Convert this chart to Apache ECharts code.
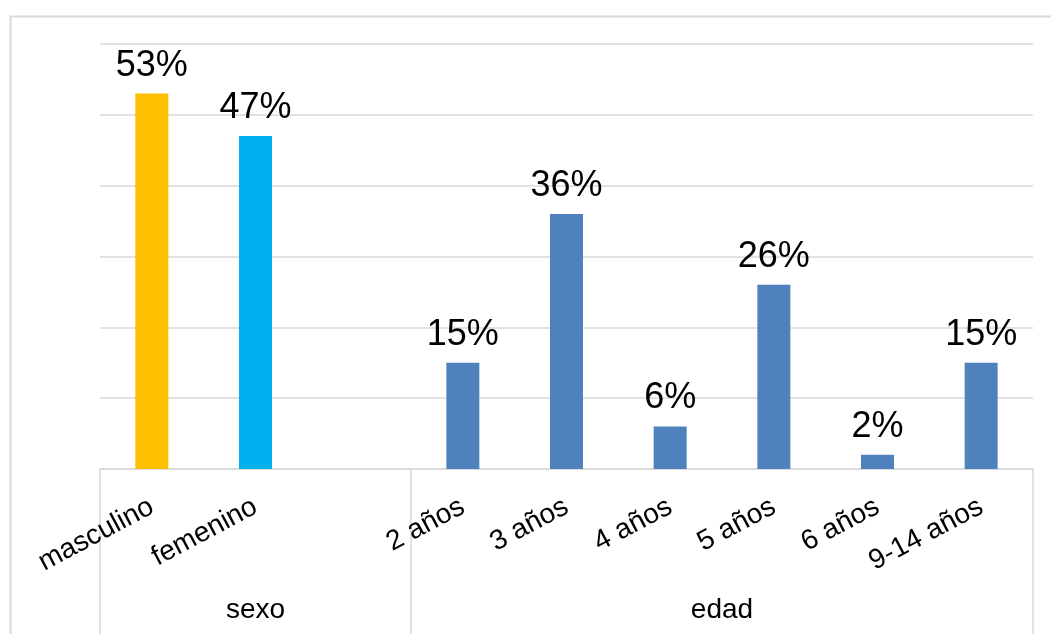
<!DOCTYPE html>
<html>
<head>
<meta charset="utf-8">
<script src="https://cdn.jsdelivr.net/npm/echarts@6/dist/echarts.min.js"></script>
<style>
  html, body { margin: 0; padding: 0; background: #fff; }
  #chart { width: 1051px; height: 634px; }
</style>
</head>
<body>
<div id="chart"></div>
<script>
// categorias (el hueco separa los dos grupos)
const categories = ["masculino", "femenino", "", "2 años", "3 años", "4 años", "5 años", "6 años", "9-14 años"];
const values = [53, 47, null, 15, 36, 6, 26, 2, 15];
const barColors = ["#FFC000", "#00B0F0", "#4F81BD", "#4F81BD", "#4F81BD", "#4F81BD", "#4F81BD", "#4F81BD", "#4F81BD"];
// grupos: nombre, posicion central y limites en unidades de categoria
const groupNames = ["sexo", "edad"];
const groupCenters = [1.5, 6];
const groupBounds = [0, 3, 9];

const font = "Liberation Sans, Arial, sans-serif";
const lineColor = "#d9d9d9";

let myChart = echarts.init(document.getElementById("chart"));
myChart.setOption({
  animation: false,
  graphic: [
    {
      type: "rect",
      left: 8,
      top: 14,
      shape: { width: 1100, height: 700 },
      style: { fill: "none", stroke: lineColor, lineWidth: 2 },
      silent: true,
    },
  ],
  grid: {
    left: 100,
    right: 18,
    top: 44,
    bottom: 165,
  },
  xAxis: [
    {
      type: "category",
      data: categories,
      position: "bottom",
      axisLine: { lineStyle: { color: lineColor, width: 1.5 } },
      axisTick: { show: false },
      axisLabel: {
        interval: 0,
        rotate: 28,
        margin: 36,
        fontSize: 28,
        fontFamily: font,
        color: "#000",
      },
    },
    {
      type: "value",
      min: 0,
      max: 9,
      position: "bottom",
      axisLine: { show: false },
      splitLine: { show: false },
      axisTick: {
        show: true,
        customValues: groupBounds,
        length: 170,
        lineStyle: { color: lineColor, width: 1.5 },
      },
      axisLabel: {
        customValues: groupCenters,
        formatter: (v) => groupNames[groupCenters.indexOf(v)],
        margin: 127,
        fontSize: 28,
        fontFamily: font,
        color: "#000",
      },
    },
  ],
  yAxis: {
    type: "value",
    min: 0,
    max: 60,
    interval: 10,
    axisLabel: { show: false },
    axisLine: { show: false },
    axisTick: { show: false },
    splitLine: { lineStyle: { color: lineColor, width: 1.5 } },
  },
  series: [
    {
      type: "bar",
      xAxisIndex: 0,
      barWidth: 33,
      data: values.map((v, i) => ({ value: v, itemStyle: { color: barColors[i] } })),
      label: {
        show: true,
        position: "top",
        distance: 10,
        formatter: "{c}%",
        fontSize: 36,
        fontFamily: font,
        color: "#000",
      },
    },
  ],
});
</script>
</body>
</html>
